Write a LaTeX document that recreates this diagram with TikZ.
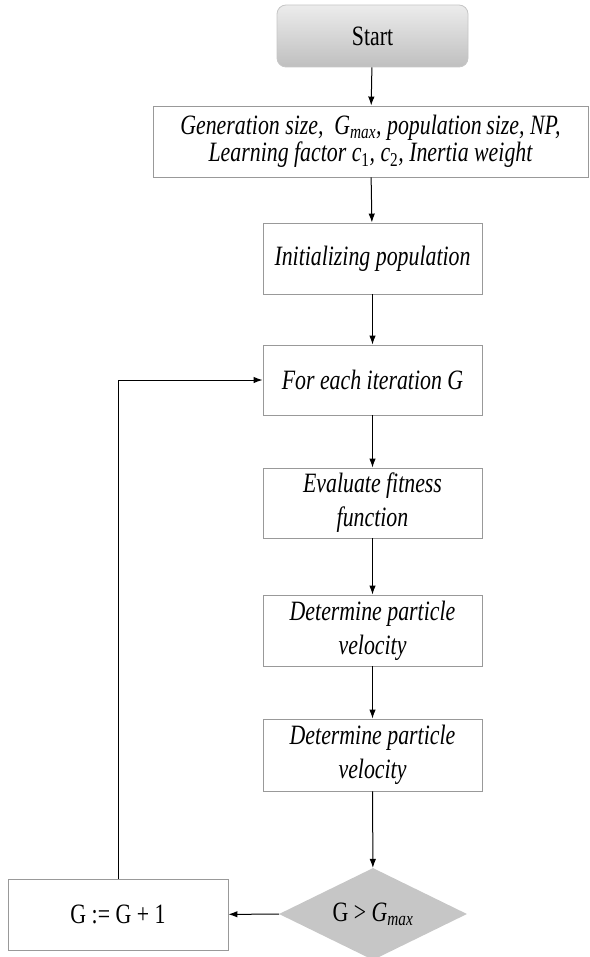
\documentclass[tikz,border=0pt]{standalone}
\usepackage{fontspec}
\newfontfamily\tf[FakeStretch=0.78]{Liberation Serif}
\usetikzlibrary{shapes.geometric,arrows.meta}
\tikzset{
  box/.style={draw=gray!80, line width=0.9pt, fill=white, inner sep=0pt, align=center,
    font=\tf\itshape\fontsize{28}{34}\selectfont},
  startbox/.style={draw=gray!45, line width=0.8pt, rounded corners=9pt, top color=gray!15, bottom color=gray!50,
    inner sep=0pt, font=\tf\fontsize{28}{30}\selectfont},
  decision/.style={diamond, fill=gray!45, draw=none, inner sep=0pt, aspect=2,
    font=\tf\fontsize{28}{30}\selectfont},
  arr/.style={-{Latex[length=9pt,width=6.5pt]}, line width=1pt, black},
}
\begin{document}
\begin{tikzpicture}[x=1pt,y=-1pt]
\useasboundingbox (0,0) rectangle (589,957);
\node[startbox, minimum width=191pt, minimum height=62pt] (start) at (372.5,36) {Start};
\node[box, minimum width=435pt, minimum height=71pt, font=\tf\itshape\fontsize{28}{27}\selectfont] (params) at (370.5,141.5)
  {Generation size,\ \ G\textsubscript{max}, population\,size, NP,\\Learning factor c\textsubscript{\upshape 1}, c\textsubscript{\upshape 2}, Inertia weight};
\node[box, minimum width=219pt, minimum height=71pt] (init) at (372.5,258.5) {Initializing population};
\node[box, minimum width=219pt, minimum height=70pt] (foreach) at (372.5,380) {For each iteration G};
\node[box, minimum width=219pt, minimum height=70pt] (eval) at (372.5,503) {Evaluate fitness\\function};
\node[box, minimum width=219pt, minimum height=71pt] (det1) at (372.5,630.5) {Determine particle\\velocity};
\node[box, minimum width=219pt, minimum height=72pt] (det2) at (372.5,755) {Determine particle\\velocity};
\node[decision, minimum width=188pt, minimum height=92pt] (dec) at (373,914) {G \textgreater\ \textit{G\textsubscript{max}}};
\node[box, font=\tf\fontsize{28}{30}\selectfont, minimum width=220pt, minimum height=71pt] (inc) at (118,914.5) {G := G + 1};
\draw[arr] (start) -- (params);
\draw[arr] (params) -- (init);
\draw[arr] (init) -- (foreach);
\draw[arr] (foreach) -- (eval);
\draw[arr] (eval) -- (det1);
\draw[arr] (det1) -- (det2);
\draw[arr] (det2) -- (dec);
\draw[arr] (dec) -- (inc);
\draw[arr] (inc.north) |- (foreach.west);
\end{tikzpicture}
\end{document}
